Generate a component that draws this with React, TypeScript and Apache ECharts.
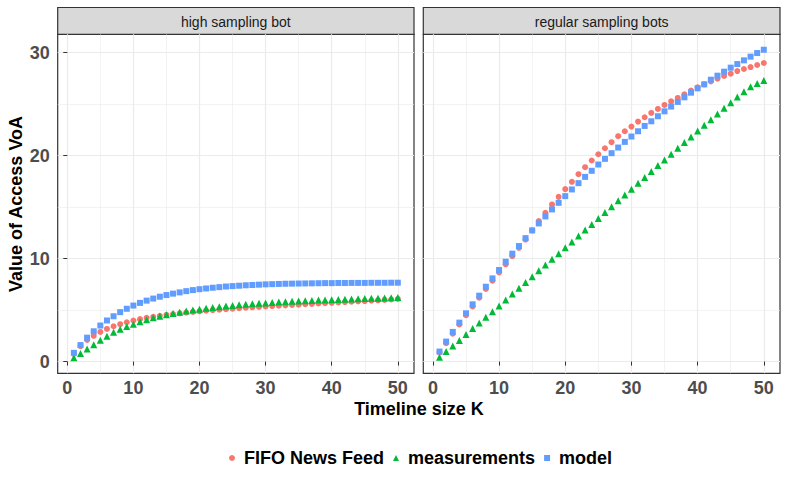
import React, { useEffect, useRef } from "react";
import * as echarts from "echarts";

const timeline = [
  1, 2, 3, 4, 5, 6, 7, 8, 9, 10, 11, 12, 13, 14, 15, 16, 17, 18, 19, 20, 21, 22, 23, 24, 25,
  26, 27, 28, 29, 30, 31, 32, 33, 34, 35, 36, 37, 38, 39, 40, 41, 42, 43, 44, 45, 46, 47, 48, 49, 50,
];

const panelTitles = ["high sampling bot", "regular sampling bots"];
const seriesNames = ["FIFO News Feed", "measurements", "model"];
const xTicks = [0, 10, 20, 30, 40, 50];
const xMinorTicks = [5, 15, 25, 35, 45];
const yTicks = [0, 10, 20, 30];
const yMinorTicks = [5, 15, 25];

const highFifo = [
  0.75, 1.5, 2.1, 2.5, 2.88, 3.17, 3.43, 3.63, 3.82, 3.99, 4.12, 4.25, 4.35, 4.44, 4.54, 4.62, 4.69,
  4.76, 4.82, 4.88, 4.94, 4.99, 5.04, 5.09, 5.14, 5.19, 5.23, 5.27, 5.31, 5.35, 5.39, 5.43, 5.46, 5.5,
  5.53, 5.57, 5.6, 5.64, 5.67, 5.71, 5.74, 5.78, 5.81, 5.85, 5.88, 5.92, 5.95, 5.99, 6.03, 6.08,
];
const highMeasurements = [
  0.36, 0.78, 1.21, 1.63, 2.06, 2.45, 2.84, 3.14, 3.4, 3.63, 3.86, 4.05, 4.25, 4.41, 4.54, 4.67, 4.8,
  4.9, 5.0, 5.09, 5.17, 5.25, 5.32, 5.39, 5.45, 5.51, 5.56, 5.61, 5.66, 5.7, 5.74, 5.78, 5.82, 5.85,
  5.88, 5.91, 5.94, 5.97, 5.99, 6.01, 6.04, 6.06, 6.08, 6.1, 6.12, 6.14, 6.16, 6.18, 6.2, 6.22,
];
const highModel = [
  0.85, 1.6, 2.32, 2.94, 3.5, 3.99, 4.4, 4.8, 5.13, 5.44, 5.7, 5.92, 6.12, 6.3, 6.46, 6.6, 6.72, 6.84,
  6.94, 7.03, 7.1, 7.17, 7.23, 7.29, 7.33, 7.37, 7.41, 7.44, 7.47, 7.5, 7.52, 7.54, 7.56, 7.57, 7.58,
  7.59, 7.6, 7.61, 7.62, 7.62, 7.63, 7.63, 7.64, 7.64, 7.64, 7.65, 7.65, 7.65, 7.66, 7.66,
];

const regularFifo = [
  0.9, 1.8, 2.7, 3.6, 4.5, 5.35, 6.2, 7.05, 7.85, 8.65, 9.45, 10.25, 11.05, 11.85, 12.75, 13.65, 14.45,
  15.26, 16.0, 16.75, 17.46, 18.2, 18.88, 19.53, 20.14, 20.72, 21.31, 21.89, 22.37, 22.83, 23.31, 23.73,
  24.15, 24.54, 24.93, 25.28, 25.61, 25.96, 26.32, 26.64, 26.93, 27.22, 27.48, 27.74, 27.97, 28.22,
  28.42, 28.61, 28.81, 29.0,
];
const regularMeasurements = [
  0.42, 0.97, 1.52, 2.04, 2.62, 3.2, 3.75, 4.3, 4.85, 5.4, 5.98, 6.56, 7.11, 7.69, 8.24, 8.83, 9.38,
  9.93, 10.48, 11.06, 11.61, 12.19, 12.77, 13.32, 13.9, 14.48, 15.03, 15.61, 16.17, 16.75, 17.33, 17.88,
  18.46, 19.04, 19.59, 20.14, 20.72, 21.27, 21.82, 22.4, 22.95, 23.5, 24.05, 24.6, 25.15, 25.7, 26.2,
  26.7, 27.0, 27.3,
];
const regularModel = [
  0.97, 1.94, 2.88, 3.78, 4.69, 5.56, 6.4, 7.27, 8.08, 8.89, 9.7, 10.48, 11.22, 11.99, 12.74, 13.42,
  14.1, 14.78, 15.42, 16.07, 16.72, 17.33, 17.94, 18.53, 19.14, 19.69, 20.24, 20.79, 21.34, 21.86,
  22.37, 22.89, 23.34, 23.83, 24.31, 24.77, 25.22, 25.67, 26.12, 26.54, 26.93, 27.38, 27.77, 28.16,
  28.55, 28.9, 29.26, 29.62, 29.97, 30.29,
];

const colors = ["#F8766D", "#00BA38", "#619CFF"];
const symbols = ["circle", "triangle", "rect"];
const symbolSizes = [6, 7, 6];

const FONT = "'Liberation Sans', Arial, Helvetica, sans-serif";

const X_MIN = -1.45;
const X_MAX = 52.45;
const Y_MIN = -1.14;
const Y_MAX = 31.79;

const grids = [
  { left: 57.7, top: 34.3, width: 356.3, height: 339 },
  { left: 423.3, top: 34.3, width: 356.7, height: 339 },
];

function buildOption() {
  const xAxis: any[] = [];
  const yAxis: any[] = [];
  grids.forEach((_, gi) => {
    xAxis.push({
      gridIndex: gi,
      type: "value",
      min: X_MIN,
      max: X_MAX,
      axisLine: { show: false },
      axisTick: { show: true, length: 4, customValues: xTicks, lineStyle: { color: "#333333", width: 1 } },
      axisLabel: {
        customValues: xTicks,
        fontSize: 18,
        fontWeight: "bold",
        color: "#4D4D4D",
        margin: 6,
        fontFamily: FONT,
      },
      splitLine: { show: true, lineStyle: { color: "#EBEBEB", width: 1.2 } },
    });
    xAxis.push({
      gridIndex: gi,
      type: "value",
      min: X_MIN,
      max: X_MAX,
      axisLine: { show: false },
      axisTick: { show: false, customValues: xMinorTicks },
      axisLabel: { show: false, customValues: xMinorTicks },
      splitLine: { show: true, lineStyle: { color: "#EBEBEB", width: 0.6 } },
    });
    yAxis.push({
      gridIndex: gi,
      type: "value",
      min: Y_MIN,
      max: Y_MAX,
      axisLine: { show: false },
      axisTick: { show: gi === 0, length: 4, customValues: yTicks, lineStyle: { color: "#333333", width: 1 } },
      axisLabel: {
        show: gi === 0,
        customValues: yTicks,
        fontSize: 18,
        fontWeight: "bold",
        color: "#4D4D4D",
        margin: 8,
        fontFamily: FONT,
      },
      splitLine: { show: true, lineStyle: { color: "#EBEBEB", width: 1.2 } },
    });
    yAxis.push({
      gridIndex: gi,
      type: "value",
      min: Y_MIN,
      max: Y_MAX,
      axisLine: { show: false },
      axisTick: { show: false, customValues: yMinorTicks },
      axisLabel: { show: false, customValues: yMinorTicks },
      splitLine: { show: true, lineStyle: { color: "#EBEBEB", width: 0.6 } },
    });
  });

  const panelData = [
    [highFifo, highMeasurements, highModel],
    [regularFifo, regularMeasurements, regularModel],
  ];

  const series: any[] = [];
  panelData.forEach((sets, gi) => {
    sets.forEach((vals, si) => {
      series.push({
        type: "scatter",
        name: seriesNames[si],
        xAxisIndex: gi * 2,
        yAxisIndex: gi * 2,
        symbol: symbols[si],
        symbolSize: symbolSizes[si],
        itemStyle: { color: colors[si], opacity: 1 },
        silent: true,
        z: 3,
        data: timeline.map((k, i) => [k, vals[i]]),
      });
    });
  });

  const graphic: any[] = [];
  grids.forEach((g, gi) => {
    graphic.push({
      type: "rect",
      shape: { x: g.left, y: 7.5, width: g.width, height: 26.8 },
      style: { fill: "#D9D9D9", stroke: "#333333", lineWidth: 1.2 },
      silent: true,
    });
    graphic.push({
      type: "text",
      x: g.left + g.width / 2,
      y: 21.5,
      style: {
        text: panelTitles[gi],
        fill: "#1A1A1A",
        font: `14px ${FONT}`,
        align: "center",
        verticalAlign: "middle",
      },
      silent: true,
    });
  });
  graphic.push({
    type: "text",
    x: 16,
    y: 204,
    rotation: Math.PI / 2,
    style: {
      text: "Value of Access VoA",
      fill: "#000000",
      font: `bold 18px ${FONT}`,
      align: "center",
      verticalAlign: "middle",
    },
    silent: true,
  });
  graphic.push({
    type: "text",
    x: 419,
    y: 409,
    style: {
      text: "Timeline size K",
      fill: "#000000",
      font: `bold 18px ${FONT}`,
      align: "center",
      verticalAlign: "middle",
    },
    silent: true,
  });

  return {
    animation: false,
    backgroundColor: "#FFFFFF",
    textStyle: { fontFamily: FONT },
    grid: grids.map((g) => ({
      ...g,
      show: true,
      backgroundColor: "#FFFFFF",
      borderColor: "#333333",
      borderWidth: 1.2,
      containLabel: false,
    })),
    xAxis,
    yAxis,
    legend: {
      left: 224,
      top: 444,
      itemWidth: 6,
      itemHeight: 6,
      itemGap: 9,
      selectedMode: false,
      data: seriesNames.map((n, i) => ({ name: n, icon: symbols[i], itemStyle: { color: colors[i] } })),
      textStyle: {
        fontSize: 18,
        fontWeight: "bold",
        color: "#000000",
        fontFamily: FONT,
        padding: [0, 0, 0, 4],
      },
    },
    graphic,
    series,
  };
}

export default function App() {
  const ref = useRef<HTMLDivElement>(null);
  useEffect(() => {
    if (!ref.current) return;
    const chart = echarts.init(ref.current, null, { renderer: "svg" });
    chart.setOption(buildOption() as any);
    return () => chart.dispose();
  }, []);
  return (
    <div
      ref={ref}
      style={{ position: "fixed", left: 0, top: 0, width: 789, height: 487, background: "#fff" }}
    />
  );
}
